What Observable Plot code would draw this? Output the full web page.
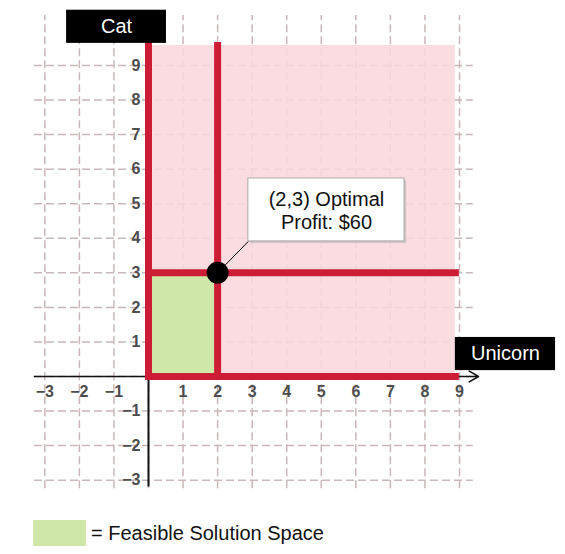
<!DOCTYPE html>
<html>
<head>
<meta charset="utf-8">
<script src="https://cdn.jsdelivr.net/npm/d3@7"></script>
<script src="https://cdn.jsdelivr.net/npm/@observablehq/plot@0.6"></script>
<style>
  html, body { margin: 0; padding: 0; background: #fff; }
  body { width: 565px; height: 554px; position: relative; overflow: hidden; font-family: "Liberation Sans", Arial, sans-serif; }
  #legend { position: absolute; left: 33px; top: 520px; height: 26px; display: flex; align-items: center; }
  #legend .sw { width: 53px; height: 26px; background: #cfe8aa; }
  #legend span { margin-left: 5px; font-size: 20px; color: #111; }
</style>
</head>
<body>
<div id="chart"></div>
<div id="legend"><div class="sw"></div><span>= Feasible Solution Space</span></div>
<script>
const gridValues = [-3, -2, -1, 0, 1, 2, 3, 4, 5, 6, 7, 8, 9];
const xTickValues = [-3, -2, -1, 1, 2, 3, 4, 5, 6, 7, 8, 9];
const yTickValues = [-3, -2, -1, 1, 2, 3, 4, 5, 6, 7, 8, 9];
const xAxisName = "Unicorn";
const yAxisName = "Cat";
// constraint lines: x = 0, x = 2, y = 3, y = 0
const constraintLines = [
  {x1: 0, y1: 0, x2: 0, y2: 9.58},
  {x1: 2, y1: 0, x2: 2, y2: 9.58},
  {x1: 0, y1: 3, x2: 8.88, y2: 3},
  {x1: 0, y1: 0, x2: 8.88, y2: 0}
];
const regionAll = [{x1: 0, x2: 8.88, y1: 0, y2: 9.58}];
const regionFeasible = [{x1: 0, x2: 2, y1: 0, y2: 3}];
const optimum = [{x: 2, y: 3, profit: 60}];

const fmt = v => (v < 0 ? "\u2212" + Math.abs(v) : String(v));
const gridStyle = {stroke: "#c9b7b9", strokeWidth: 1.5, strokeDasharray: "8,4"};
const red = "#cd1c35";

const chart = Plot.plot({
  width: 565,
  height: 505,
  margin: 0,
  style: {fontFamily: "'Liberation Sans', Arial, sans-serif", background: "transparent"},
  x: {domain: [0, 9], range: [148, 459], axis: null},
  y: {domain: [0, 9], range: [376, 65], axis: null},
  marks: [
    // grid
    Plot.ruleX(gridValues, {x: d => d, y1: -3.25, y2: 10.45, ...gridStyle}),
    Plot.ruleY(gridValues, {y: d => d, x1: -3.3, x2: 9.4, ...gridStyle}),
    // regions
    Plot.rect(regionAll, {x1: "x1", x2: "x2", y1: "y1", y2: "y2", fill: "#f9d7dd", fillOpacity: 0.88}),
    Plot.rect(regionFeasible, {x1: "x1", x2: "x2", y1: "y1", y2: "y2", fill: "#cfe8aa"}),
    // axes
    Plot.arrow([0], {x1: -3.3, y1: 0, x2: 9.55, y2: 0, stroke: "#111", strokeWidth: 1.6, headLength: 10, bend: 0}),
    Plot.ruleX([0], {x: 0, y1: 0, y2: -3.2, stroke: "#111", strokeWidth: 2}),
    // constraint lines
    Plot.link(constraintLines, {x1: "x1", y1: "y1", x2: "x2", y2: "y2", stroke: red, strokeWidth: 7, strokeLinecap: "square"}),
    // tick labels
    Plot.text(xTickValues, {x: d => d, y: 0, text: fmt, dy: 15, fontSize: 16, fontWeight: "bold", fill: "#4d4d4d"}),
    Plot.text(yTickValues, {x: 0, y: d => d, text: fmt, dx: -8, textAnchor: "end", fontSize: 16, fontWeight: "bold", fill: "#4d4d4d"}),
    // axis name boxes
    Plot.rect([yAxisName], {x1: -2.37, x2: 0.52, y1: 9.64, y2: 10.6, fill: "#000"}),
    Plot.text([yAxisName], {x: -0.925, y: 10.12, text: d => d, fill: "#fff", fontSize: 20}),
    Plot.rect([xAxisName], {x1: 8.88, x2: 11.78, y1: 0.17, y2: 1.13, fill: "#000"}),
    Plot.text([xAxisName], {x: 10.33, y: 0.65, text: d => d, fill: "#fff", fontSize: 20}),
    // leader line + callout
    Plot.link(optimum, {x1: "x", y1: "y", x2: 2.89, y2: 3.91, stroke: "#000", strokeWidth: 1}),
    Plot.dot(optimum, {x: "x", y: "y", r: 11, fill: "#000"}),
    Plot.rect(optimum, {x1: 2.95, x2: 7.47, y1: 3.85, y2: 5.67, fill: "#bbb", fillOpacity: 0.7}),
    Plot.rect(optimum, {x1: 2.89, x2: 7.41, y1: 3.91, y2: 5.73, fill: "#fff", stroke: "#aaa", strokeWidth: 1}),
    Plot.text(optimum, {x: 5.15, y: 4.82, text: d => `(${d.x},${d.y}) Optimal\nProfit: $${d.profit}`, fontSize: 20, lineHeight: 1.15, fill: "#111"})
  ]
});
document.getElementById("chart").appendChild(chart);
</script>
</body>
</html>
